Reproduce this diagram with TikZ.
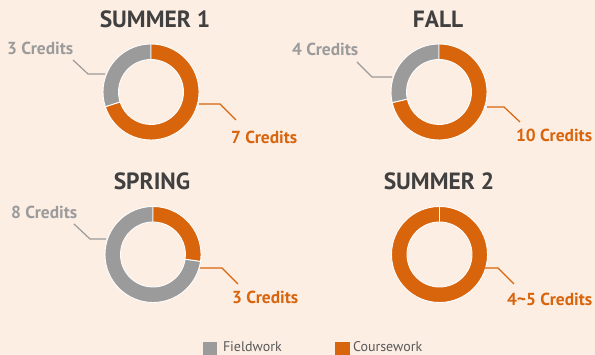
\documentclass[tikz,border=0pt]{standalone}
\usepackage{fontspec}
\setmainfont{PT Sans}
\usetikzlibrary{calc}
\begin{document}
\begin{tikzpicture}[x=1pt,y=1pt,
  every node/.style={inner sep=0pt,outer sep=0pt},
  ttl/.style={font=\bfseries\fontsize{23.5}{26}\selectfont,text=titlec,anchor=base},
  lblg/.style={font=\bfseries\fontsize{17.4}{20}\selectfont,text=grayc,anchor=base west},
  lblo/.style={font=\bfseries\fontsize{17.4}{20}\selectfont,text=orangec,anchor=base west},
  leg/.style={font=\fontsize{14}{16}\selectfont,text=legc,anchor=base west},
  leadg/.style={draw=grayc,line width=1.2pt},
  leado/.style={draw=orangec,line width=1.2pt},
  slice/.style={draw=white,line width=0.9pt,line join=round}]
\definecolor{bgc}{HTML}{FDEEE4}
\definecolor{orangec}{HTML}{D8640C}
\definecolor{grayc}{HTML}{9B9B9B}
\definecolor{titlec}{HTML}{404040}
\definecolor{legc}{HTML}{595959}
\fill[bgc] (0,0) rectangle (595,355);
\useasboundingbox (0,0) rectangle (595,355);
\newcommand{\ringslice}[5]{% cx cy a1 a2 color
  \filldraw[slice,fill=#5] ($(#1,#2)+(#3:48)$) arc[start angle=#3,end angle=#4,radius=48]
    -- ($(#1,#2)+(#4:32.5)$) arc[start angle=#4,end angle=#3,radius=32.5] -- cycle;}
% titles
\node[ttl] (t1) at (155,327) {SUMMER 1};
\node[ttl] (t2) at (438,327) {FALL};
\node[ttl] (t3) at (152,165.5) {SPRING};
\node[ttl] (t4) at (439,165) {SUMMER 2};
% Summer 1
\ringslice{151}{263}{90}{198}{grayc}
\ringslice{151}{263}{198}{450}{orangec}
% Fall
\ringslice{439}{263}{90}{192.9}{grayc}
\ringslice{439}{263}{192.9}{450}{orangec}
% Spring
\ringslice{153}{100.5}{90}{351.8}{grayc}
\ringslice{153}{100.5}{-8.2}{90}{orangec}
% Summer 2
\ringslice{439.5}{100.5}{90}{450}{orangec}
% labels
\node[lblg] (l1g) at (7,300.7) {3 Credits};
\node[lblo] (l1o) at (231,211) {7 Credits};
\node[lblg] (l2g) at (292,299) {4 Credits};
\node[lblo] (l2o) at (516,213.3) {10 Credits};
\node[lblg] (l3g) at (11,136.7) {8 Credits};
\node[lblo] (l3o) at (232,51) {3 Credits};
\node[lblo] (l4o) at (507,49.3) {4\textasciitilde 5 Credits};
% leader coordinates
\coordinate (s1g) at (105,281); \coordinate (e1g) at (73,295);
\coordinate (s1o) at (199,251); \coordinate (e1o) at (236,235);
\coordinate (s2g) at (392,278); \coordinate (e2g) at (357,293);
\coordinate (s2o) at (487,248); \coordinate (e2o) at (520,233);
\coordinate (s3g) at (106,116); \coordinate (e3g) at (74,131);
\coordinate (s3o) at (200,87);  \coordinate (e3o) at (238,71);
\coordinate (s4o) at (485,87);  \coordinate (e4o) at (514,71);
\draw[leadg] (s1g) -- (88,281) -- (e1g);
\draw[leado] (s1o) -- (220,251) -- (e1o);
\draw[leadg] (s2g) -- (372,278) -- (e2g);
\draw[leado] (s2o) -- (504,248) -- (e2o);
\draw[leadg] (s3g) -- (90,116) -- (e3g);
\draw[leado] (s3o) -- (222,87) -- (e3o);
\draw[leado] (s4o) -- (498,87) -- (e4o);
% legend
\fill[grayc] (203,-1) rectangle (217,13);
\node[leg] (lf) at (223,3) {Fieldwork};
\fill[orangec] (335,-1) rectangle (349.5,13);
\node[leg] (lc) at (353,3) {Coursework};
\end{tikzpicture}
\end{document}
